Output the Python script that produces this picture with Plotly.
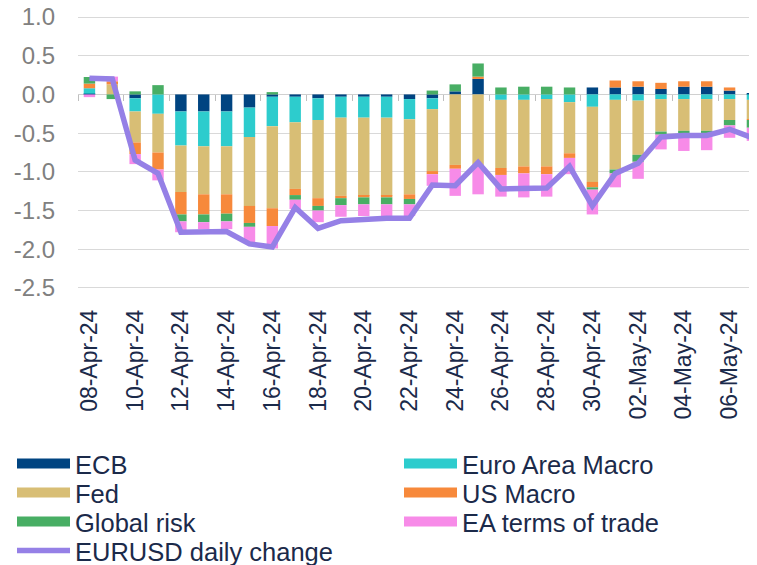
import plotly.graph_objects as go

dates = ["08-Apr-24", "09-Apr-24", "10-Apr-24", "11-Apr-24", "12-Apr-24", "13-Apr-24",
         "14-Apr-24", "15-Apr-24", "16-Apr-24", "17-Apr-24", "18-Apr-24", "19-Apr-24",
         "20-Apr-24", "21-Apr-24", "22-Apr-24", "23-Apr-24", "24-Apr-24", "25-Apr-24",
         "26-Apr-24", "27-Apr-24", "28-Apr-24", "29-Apr-24", "30-Apr-24", "01-May-24",
         "02-May-24", "03-May-24", "04-May-24", "05-May-24", "06-May-24", "07-May-24"]

ecb = [0.01, 0.0, -0.05, 0.0, -0.22, -0.22, -0.22, -0.17, -0.03, -0.03,
       -0.05, -0.03, -0.03, -0.03, -0.06, -0.05, 0.04, 0.20, 0.0, 0.0,
       0.0, 0.0, 0.09, 0.09, 0.10, 0.07, 0.10, 0.10, 0.05, 0.01]
ea_macro = [0.07, 0.0, -0.17, -0.25, -0.44, -0.45, -0.45, -0.38, -0.38, -0.33,
            -0.28, -0.27, -0.27, -0.27, -0.26, -0.14, 0.0, 0.0, -0.07, -0.07,
            -0.06, -0.10, -0.16, -0.07, -0.08, -0.06, -0.06, -0.06, -0.06, -0.07]
fed = [0.0, 0.13, -0.40, -0.50, -0.60, -0.62, -0.62, -0.89, -1.06, -0.86,
       -1.01, -1.01, -1.01, -1.01, -0.97, -0.80, -0.91, -0.93, -0.88, -0.86,
       -0.87, -0.66, -0.97, -0.90, -0.70, -0.42, -0.41, -0.41, -0.27, -0.25]
us_macro = [0.06, 0.04, -0.15, -0.22, -0.29, -0.26, -0.25, -0.22, -0.23, -0.08,
            -0.10, -0.03, -0.02, -0.02, -0.06, -0.04, -0.05, 0.03, -0.09, -0.09,
            -0.10, -0.06, -0.07, 0.09, 0.07, 0.08, 0.07, 0.07, 0.04, -0.01]
global_risk = [0.085, -0.06, 0.04, 0.12, -0.09, -0.10, -0.10, -0.05, 0.03, -0.06,
               -0.06, -0.09, -0.09, -0.09, -0.07, 0.05, 0.09, 0.17, 0.09, 0.10,
               0.10, 0.09, -0.03, -0.05, -0.09, -0.04, -0.03, -0.03, -0.07, -0.10]
ea_tot = [-0.035, 0.06, -0.13, -0.14, -0.14, -0.09, -0.10, -0.20, -0.29, -0.12,
          -0.15, -0.15, -0.15, -0.15, -0.15, -0.15, -0.35, -0.36, -0.28, -0.31,
          -0.29, -0.21, -0.32, -0.18, -0.22, -0.19, -0.23, -0.22, -0.16, -0.17]
eurusd = [0.21, 0.20, -0.85, -1.02, -1.78, -1.77, -1.77, -1.93, -1.97, -1.46,
          -1.73, -1.63, -1.61, -1.60, -1.60, -1.17, -1.18, -0.88, -1.22, -1.21,
          -1.21, -0.93, -1.44, -1.02, -0.89, -0.55, -0.53, -0.53, -0.45, -0.56]

y_tickvals = [1.0, 0.5, 0.0, -0.5, -1.0, -1.5, -2.0, -2.5]
y_ticktext = ["1.0", "0.5", "0.0", "-0.5", "-1.0", "-1.5", "-2.0", "-2.5"]

series_names = ["ECB", "Euro Area Macro", "Fed", "US Macro", "Global risk", "EA terms of trade"]
series_values = [ecb, ea_macro, fed, us_macro, global_risk, ea_tot]
series_colors = ["#004481", "#2DCCCD", "#D8BE75", "#F7893B", "#48AE64", "#F78BE8"]
line_name = "EURUSD daily change"
line_color = "#9580E6"
text_color = "#1B2A4A"
font_family = "Liberation Sans, Arial, sans-serif"

# figure sized to sit inside the page's default 8px body margin
W, H = 749, 557
legend_ids = ["legend", "legend2", "legend3", "legend4", "legend5", "legend6", "legend7"]
legend_cols_px = [4, 391]
legend_rows_px = [456, 485, 514, 543]

fig = go.Figure()
for name, vals, color in zip(series_names, series_values, series_colors):
    fig.add_trace(go.Bar(x=dates, y=vals, name=name,
                         marker=dict(color=color, line=dict(width=0)), showlegend=False))
# legend swatches (wide rectangles like the reference)
for i, (name, color) in enumerate(zip(series_names, series_colors)):
    fig.add_trace(go.Scatter(x=[None], y=[None], mode="lines", name=name,
                             line=dict(color=color, width=13), legend=legend_ids[i],
                             showlegend=True, hoverinfo="skip"))

fig.add_trace(go.Scatter(x=dates, y=eurusd, mode="lines", name=line_name,
                         line=dict(color=line_color, width=5.5), xaxis="x2", yaxis="y",
                         legend=legend_ids[6]))

ymin, ymax = -2.5, 1.0
pad = 0.026
lo, hi = ymin - pad, ymax + pad
leg_common = dict(orientation="h", xref="container", yref="container", xanchor="left",
                  yanchor="middle", font=dict(size=25.5, color=text_color, family=font_family),
                  itemwidth=53, bgcolor="rgba(0,0,0,0)", itemclick=False,
                  itemdoubleclick=False, borderwidth=0)
legends = {}
for i, lid in enumerate(legend_ids):
    col = i % 2
    row = i // 2
    legends[lid] = dict(leg_common, x=legend_cols_px[col] / W, y=1 - legend_rows_px[row] / H)

fig.update_layout(
    width=W, height=H,
    margin=dict(l=70, r=0, t=7, b=275, autoexpand=False),
    plot_bgcolor="white", paper_bgcolor="white",
    barmode="relative", bargap=0.5,
    font=dict(family=font_family),
    xaxis=dict(type="category", categoryarray=dates, range=[-0.5, 29.2],
               tickmode="linear", tick0=0, dtick=2, tickangle=-90,
               tickfont=dict(size=23, color=text_color), showgrid=False, showline=False,
               ticks="", ticklabelstandoff=14, automargin=False),
    xaxis2=dict(type="category", overlaying="x", matches="x", anchor="free",
                position=(0 - lo) / (hi - lo), showline=True,
                linecolor="#D0D0D0", linewidth=1, ticks="outside", ticklen=6,
                tickcolor="#BFBFBF", tickwidth=1, tickson="boundaries", tickmode="linear",
                tick0=0, dtick=2, showticklabels=False, showgrid=False,
                layer="below traces", automargin=False),
    yaxis=dict(range=[lo, hi], tickmode="array", tickvals=y_tickvals,
               ticktext=y_ticktext, gridcolor="#D9D9D9", gridwidth=1, zeroline=False,
               showline=False, tickfont=dict(size=24, color="#808080"),
               ticklabelstandoff=22, ticklabeloverflow="allow", automargin=False),
    **legends,
)

fig.write_html("out.html")
